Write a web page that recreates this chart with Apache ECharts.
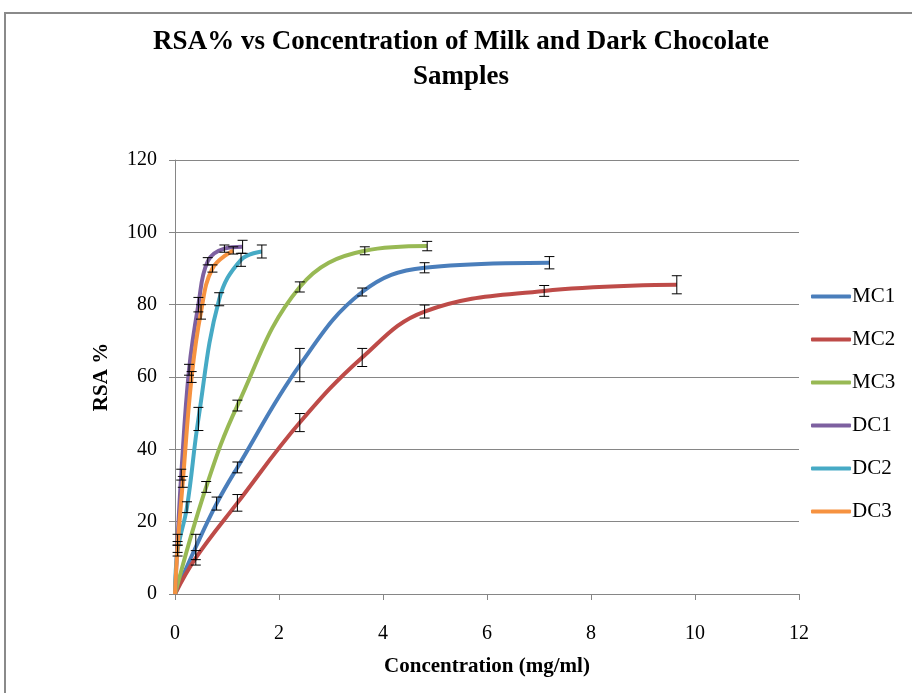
<!DOCTYPE html>
<html>
<head>
<meta charset="utf-8">
<script src="https://cdn.jsdelivr.net/npm/echarts@6/dist/echarts.min.js"></script>
<style>
  html, body { margin: 0; padding: 0; background: #fff; }
  #main { width: 912px; height: 693px; }
</style>
</head>
<body>
<div id="main"></div>
<script>
// data: concentration (mg/ml), RSA %, error (+/-)
const mc1X = [0, 0.4, 0.8, 1.2, 2.4, 3.6, 4.8, 7.2];
const mc1Y = [0, 13, 25, 35, 63.3, 83.5, 90.2, 91.6];
const mc1Err = [0, 3.5, 1.8, 1.5, 4.6, 1.1, 1.4, 1.7];

const mc2X = [0, 0.4, 1.2, 2.4, 3.6, 4.8, 7.1, 9.65];
const mc2Y = [0, 10, 25.2, 47.4, 65.4, 78.1, 83.8, 85.5];
const mc2Err = [0, 2, 2.3, 2.5, 2.5, 1.8, 1.5, 2.5];

const mc3X = [0, 0.6, 1.2, 2.4, 3.65, 4.85];
const mc3Y = [0, 29.6, 52.1, 84.9, 94.9, 96.2];
const mc3Err = [0, 1.5, 1.5, 1.4, 1.1, 1.3];

const dc1X = [0, 0.05, 0.12, 0.27, 0.45, 0.63, 0.95, 1.3];
const dc1Y = [0, 15, 33, 62, 80, 92, 95.5, 96];
const dc1Err = [0, 1.5, 1.5, 1.5, 2, 1, 1, 1.8];

const dc2X = [0, 0.05, 0.23, 0.45, 0.85, 1.27, 1.67];
const dc2Y = [0, 12, 24, 48.4, 81.5, 92.4, 94.7];
const dc2Err = [0, 1.5, 1.5, 3.2, 1.8, 1.8, 1.8];

const dc3X = [0, 0.05, 0.15, 0.32, 0.5, 0.72, 1.12];
const dc3Y = [0, 13, 31, 60, 78, 90, 95];
const dc3Err = [0, 1.5, 1.5, 1.5, 2, 1, 1];

const seriesNames = ['MC1', 'MC2', 'MC3', 'DC1', 'DC2', 'DC3'];
const seriesColors = ['#4A7EBB', '#BE4B48', '#98B954', '#7D60A0', '#46AAC5', '#F69240'];
const allX = [mc1X, mc2X, mc3X, dc1X, dc2X, dc3X];
const allY = [mc1Y, mc2Y, mc3Y, dc1Y, dc2Y, dc3Y];
const allErr = [mc1Err, mc2Err, mc3Err, dc1Err, dc2Err, dc3Err];

const xTicks = [0, 2, 4, 6, 8, 10, 12];
const yTicks = [0, 20, 40, 60, 80, 100, 120];

const serif = 'Liberation Serif, Times New Roman, serif';

let chart = echarts.init(document.getElementById('main'), null, { renderer: 'canvas' });

// line series
let series = [];
for (let i = 0; i < seriesNames.length; i++) {
  let pts = [];
  for (let j = 0; j < allX[i].length; j++) {
    pts.push([allX[i][j], allY[i][j]]);
  }
  series.push({
    name: seriesNames[i],
    type: 'line',
    data: pts,
    smooth: 0.4,
    symbol: 'none',
    color: seriesColors[i],
    lineStyle: { width: 4, color: seriesColors[i] },
    z: 2 + i
  });
}

// error bars
let errData = [];
for (let i = 0; i < seriesNames.length; i++) {
  for (let j = 0; j < allX[i].length; j++) {
    if (allErr[i][j] > 0) {
      errData.push([allX[i][j], allY[i][j] - allErr[i][j], allY[i][j] + allErr[i][j]]);
    }
  }
}
series.push({
  type: 'custom',
  name: 'err',
  data: errData,
  z: 20,
  silent: true,
  renderItem: function (params, api) {
    const top = api.coord([api.value(0), api.value(2)]);
    const bot = api.coord([api.value(0), api.value(1)]);
    const w = 5;
    const style = { stroke: '#000', lineWidth: 1 };
    return {
      type: 'group',
      children: [
        { type: 'line', shape: { x1: top[0], y1: top[1], x2: bot[0], y2: bot[1] }, style: style },
        { type: 'line', shape: { x1: top[0] - w, y1: top[1], x2: top[0] + w, y2: top[1] }, style: style },
        { type: 'line', shape: { x1: bot[0] - w, y1: bot[1], x2: bot[0] + w, y2: bot[1] }, style: style }
      ]
    };
  }
});

let option = {
  backgroundColor: '#fff',
  animation: false,
  title: {
    text: 'RSA% vs Concentration of Milk and Dark Chocolate\nSamples',
    left: 456,
    textAlign: 'center',
    top: 20,
    textStyle: {
      fontFamily: serif,
      fontWeight: 'bold',
      fontSize: 27,
      lineHeight: 35,
      color: '#000'
    }
  },
  legend: {
    data: seriesNames,
    orient: 'vertical',
    left: 806,
    top: 281,
    itemWidth: 40,
    itemHeight: 4,
    itemGap: 22,
    icon: 'roundRect',
    textStyle: { fontFamily: serif, fontSize: 21, color: '#000', padding: [0, 0, 0, -4] }
  },
  grid: {
    left: 175,
    right: 113,
    top: 160,
    bottom: 99,
    containLabel: false
  },
  xAxis: {
    type: 'value',
    min: xTicks[0],
    max: xTicks[xTicks.length - 1],
    interval: 2,
    name: 'Concentration (mg/ml)',
    nameLocation: 'middle',
    nameGap: 62,
    nameTextStyle: { fontFamily: serif, fontWeight: 'bold', fontSize: 21, color: '#000' },
    axisLine: { lineStyle: { color: '#868686', width: 1 } },
    axisTick: { show: true, inside: false, length: 6, lineStyle: { color: '#868686' } },
    axisLabel: { fontFamily: serif, fontSize: 20, color: '#000', margin: 30 },
    splitLine: { show: false }
  },
  yAxis: {
    type: 'value',
    min: yTicks[0],
    max: yTicks[yTicks.length - 1],
    interval: 20,
    name: 'RSA %',
    nameLocation: 'middle',
    nameGap: 63,
    nameTextStyle: { fontFamily: serif, fontWeight: 'bold', fontSize: 21, color: '#000' },
    axisLine: { show: true, lineStyle: { color: '#868686', width: 1 } },
    axisTick: { show: true, inside: false, length: 6, lineStyle: { color: '#868686' } },
    axisLabel: { fontFamily: serif, fontSize: 20, color: '#000', margin: 18 },
    splitLine: { show: true, lineStyle: { color: '#868686', width: 1 } }
  },
  graphic: [{
    type: 'rect',
    silent: true,
    shape: { x: 5, y: 13, width: 1000, height: 1000 },
    style: { fill: 'none', stroke: '#8a8a8a', lineWidth: 2 }
  }],
  series: series
};

chart.setOption(option);
</script>
</body>
</html>
